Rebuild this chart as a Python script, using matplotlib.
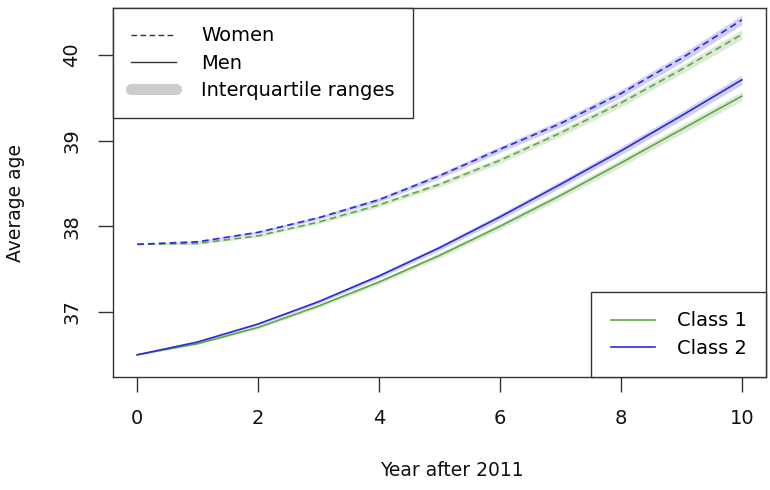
import matplotlib
matplotlib.use("Agg")
import matplotlib.pyplot as plt
from matplotlib.lines import Line2D
import numpy as np

# ── Data ─────────────────────────────────────────────────────────────────────
years = [0, 1, 2, 3, 4, 5, 6, 7, 8, 9, 10]

women_class1 = [37.79, 37.80, 37.89, 38.05, 38.25, 38.49, 38.77, 39.09, 39.44, 39.83, 40.24]
women_class2 = [37.79, 37.82, 37.93, 38.10, 38.31, 38.59, 38.90, 39.20, 39.55, 39.96, 40.41]
men_class1   = [36.50, 36.63, 36.82, 37.07, 37.35, 37.66, 38.00, 38.36, 38.74, 39.13, 39.52]
men_class2   = [36.50, 36.65, 36.86, 37.12, 37.42, 37.75, 38.11, 38.49, 38.88, 39.29, 39.71]

# half width of interquartile band (approx.)
iqr_half = [0.00, 0.01, 0.015, 0.02, 0.025, 0.03, 0.035, 0.04, 0.045, 0.05, 0.055]

x_ticks = [0, 2, 4, 6, 8, 10]
y_ticks = [37, 38, 39, 40]

GREEN = "#5fa845"
BLUE = "#2b2bd9"
DASH = (0, (4, 2.5))

plt.rcParams["font.family"] = "DejaVu Sans"

fig = plt.figure(figsize=(7.7, 4.9), dpi=100)
ax = fig.add_axes([113 / 770, 1 - 377 / 490, 653 / 770, 369 / 490])

yrs = np.array(years)
half = np.array(iqr_half)
series = [
    (women_class1, GREEN, DASH),
    (women_class2, BLUE, DASH),
    (men_class1, GREEN, "-"),
    (men_class2, BLUE, "-"),
]
for vals, col, ls in series:
    v = np.array(vals)
    ax.fill_between(yrs, v - half, v + half, color=col, alpha=0.22, lw=0, zorder=1)
for vals, col, ls in series:
    ax.plot(yrs, vals, color=col, lw=1.2, linestyle=ls, zorder=2)

ax.set_xlim(-0.4, 10.4)
ax.set_ylim(36.241, 40.549)
ax.set_xticks(x_ticks)
ax.set_yticks(y_ticks)
ax.set_yticklabels([str(t) for t in y_ticks], rotation=90, va="center")
ax.tick_params(axis="both", direction="out", length=11, width=1.0,
               color="#333333", labelsize=14, labelcolor="#111111")
ax.tick_params(axis="x", pad=12)
ax.tick_params(axis="y", pad=12)
for sp in ax.spines.values():
    sp.set_color("#333333")
    sp.set_linewidth(1.0)

# axis titles placed like R's mtext
fig.text(452 / 770, 1 - 470 / 490, "Year after 2011", fontsize=13.5,
         ha="center", va="center", color="#111111")
fig.text(16 / 770, 1 - 203 / 490, "Average age", fontsize=13.5, rotation=90,
         ha="center", va="center", color="#111111")

# Legend: line types
h1 = [
    Line2D([], [], color="#333333", lw=1.0, linestyle=DASH),
    Line2D([], [], color="#333333", lw=1.0),
    Line2D([], [], color="#cccccc", lw=8, solid_capstyle="round"),
]
leg1 = ax.legend(h1, ["Women", "Men", "Interquartile ranges"], loc="upper left",
                 bbox_to_anchor=(0, 1), borderaxespad=0, fontsize=14,
                 fancybox=False, framealpha=1, edgecolor="#333333",
                 handlelength=2.3, handletextpad=1.3, labelspacing=0.42,
                 borderpad=0.95)
leg1.get_frame().set_linewidth(1.0)
ax.add_artist(leg1)

# Legend: classes
h2 = [Line2D([], [], color=GREEN, lw=1.2), Line2D([], [], color=BLUE, lw=1.2)]
leg2 = ax.legend(h2, ["Class 1", "Class 2"], loc="lower right",
                 bbox_to_anchor=(1, 0), borderaxespad=0, fontsize=14,
                 fancybox=False, framealpha=1, edgecolor="#333333",
                 handlelength=2.3, handletextpad=1.1, labelspacing=0.42,
                 borderpad=1.0)
leg2.get_frame().set_linewidth(1.0)

fig.savefig("out.png", dpi=100)
